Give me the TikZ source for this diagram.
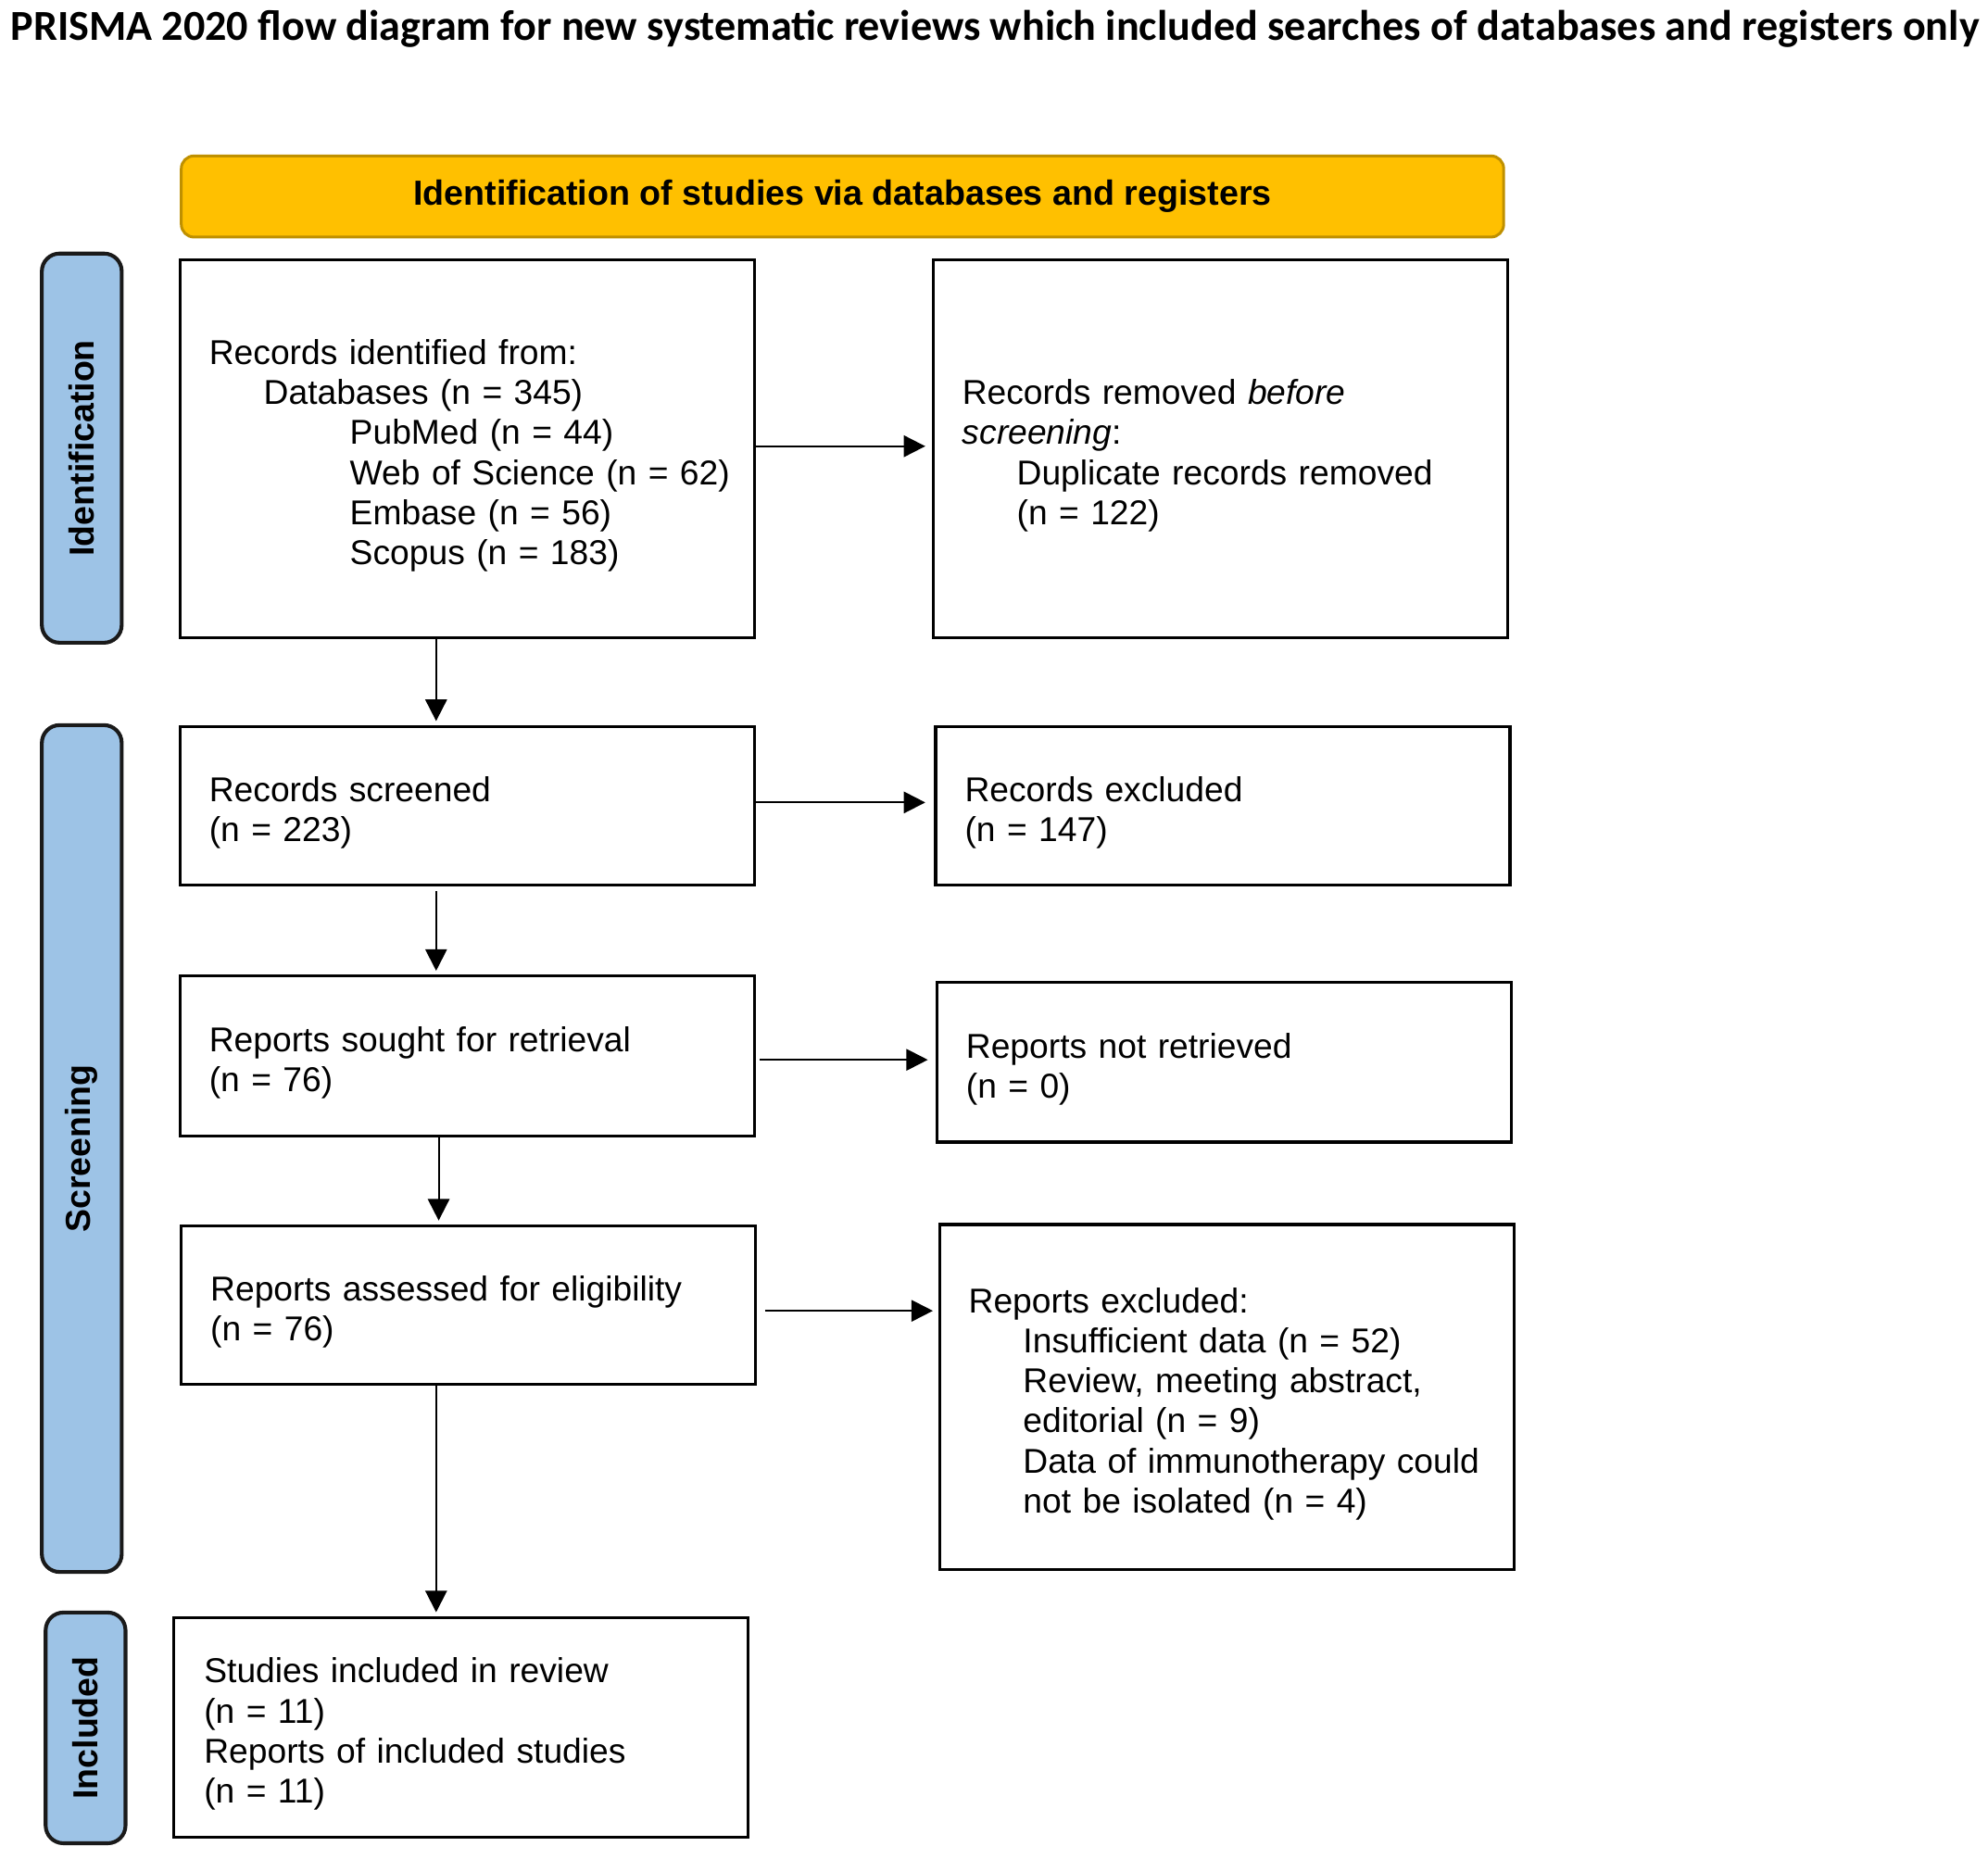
\documentclass[tikz,border=0pt]{standalone}
\usepackage{fontspec}
\setmainfont{Liberation Sans}
\newfontfamily\titlefont{Carlito}
\usetikzlibrary{arrows.meta,calc}
\definecolor{bannerfill}{HTML}{FFC000}
\definecolor{bannerdraw}{HTML}{BF9000}
\definecolor{sidefill}{HTML}{9DC3E6}
\definecolor{sidedraw}{HTML}{1A1A1A}
\begin{document}
\begin{tikzpicture}[x=0.5pt,y=-0.5pt,
  box/.style={draw=black, line width=1.2pt, rectangle, inner xsep=11.5pt, inner ysep=0pt,
    align=left, minimum width=226.5pt, text width=203.5pt,
    execute at begin node={\rule{0pt}{15.3pt}},
    font=\fontsize{13.6pt}{15.8pt}\selectfont},
  sidelabel/.style={draw=sidedraw, fill=sidefill, line width=1.5pt, rounded corners=7pt,
    rotate=90, minimum height=31.5pt, inner sep=0pt,
    font=\fontsize{13.7pt}{16pt}\selectfont\bfseries},
  banner/.style={draw=bannerdraw, fill=bannerfill, line width=1.1pt, rounded corners=5pt,
    minimum width=521.5pt, minimum height=32pt, inner sep=0pt,
    font=\fontsize{13.75pt}{16pt}\selectfont\bfseries},
  arr/.style={-{Triangle[length=8.5pt,width=8.5pt]}, line width=0.75pt}
]
\useasboundingbox (0,0) rectangle (1568,1466);

\node[anchor=base west, inner sep=0pt, font=\titlefont\bfseries\fontsize{16.85pt}{20pt}\selectfont] (title) at (8,32)
  {PRISMA 2020 flow diagram for new systematic reviews which included searches of databases and registers only};

\node[banner] (ban) at (664.5,155) {Identification of studies via databases and registers};

\node[sidelabel, minimum width=153.5pt] (sid) at (64.5,353.5) {Identification};
\node[sidelabel, minimum width=334pt] (sscr) at (64.5,906) {Screening};
\node[sidelabel, minimum width=91pt] (sinc) at (67.5,1363) {Included};

\node[box, minimum height=149pt] (B1) at (368.5,354) {Records identified from:\\
\hspace*{21.5pt}Databases (n = 345)\\
\hspace*{55.5pt}PubMed (n = 44)\\
\hspace*{55.5pt}\mbox{Web of Science (n = 62)}\\
\hspace*{55.5pt}Embase (n = 56)\\
\hspace*{55.5pt}Scopus (n = 183)};

\node[box, minimum height=149pt] (B2) at (962.5,354) {Records removed \textit{before}\\
\textit{screening}:\\
\hspace*{21.5pt}Duplicate records removed\\
\hspace*{21.5pt}(n = 122)};

\node[box, minimum height=62.5pt] (B3) at (368.5,635.5) {Records screened\\(n = 223)};
\node[box, minimum height=62.5pt] (B4) at (964.5,635.5) {Records excluded\\(n = 147)};

\node[box, minimum height=63pt] (B5) at (368.5,833) {Reports sought for retrieval\\(n = 76)};
\node[box, minimum height=63pt] (B6) at (965.5,838) {Reports not retrieved\\(n = 0)};

\node[box, minimum height=62.5pt] (B7) at (369.5,1029.5) {Reports assessed for eligibility\\(n = 76)};
\node[box, minimum height=136pt] (B8) at (967.5,1102) {Reports excluded:\\
\hspace*{21.5pt}Insufficient data (n = 52)\\
\hspace*{21.5pt}Review, meeting abstract,\\
\hspace*{21.5pt}editorial (n = 9)\\
\hspace*{21.5pt}\mbox{Data of immunotherapy could}\\
\hspace*{21.5pt}not be isolated (n = 4)};

\node[box, minimum height=86.5pt, inner xsep=12pt, text width=202.5pt] (B9) at (363.5,1362.5) {Studies included in review\\
(n = 11)\\
Reports of included studies\\
(n = 11)};

% vertical connectors
\coordinate (v1) at (344,0);
\coordinate (v3) at (346,0);
\draw[arr, shorten >=1.5pt] (B1.south -| v1) -- (B3.north -| v1);
\draw[arr, shorten >=1.5pt, shorten <=2pt] (B3.south -| v1) -- (B5.north -| v1);
\draw[arr, shorten >=1.5pt] (B5.south -| v3) -- (B7.north -| v3);
\draw[arr, shorten >=1.5pt] (B7.south -| v1) -- (B9.north -| v1);

% horizontal connectors
\coordinate (h1) at (0,352);
\coordinate (h2) at (0,633);
\coordinate (h3) at (0,836);
\coordinate (h4) at (0,1034);
\draw[arr, shorten >=2.5pt] (B1.east |- h1) -- (B2.west |- h1);
\draw[arr, shorten >=3.5pt] (B3.east |- h2) -- (B4.west |- h2);
\draw[arr, shorten >=3pt, shorten <=1.5pt] (B5.east |- h3) -- (B6.west |- h3);
\draw[arr, shorten >=2pt, shorten <=3pt] (B7.east |- h4) -- (B8.west |- h4);
\end{tikzpicture}
\end{document}
